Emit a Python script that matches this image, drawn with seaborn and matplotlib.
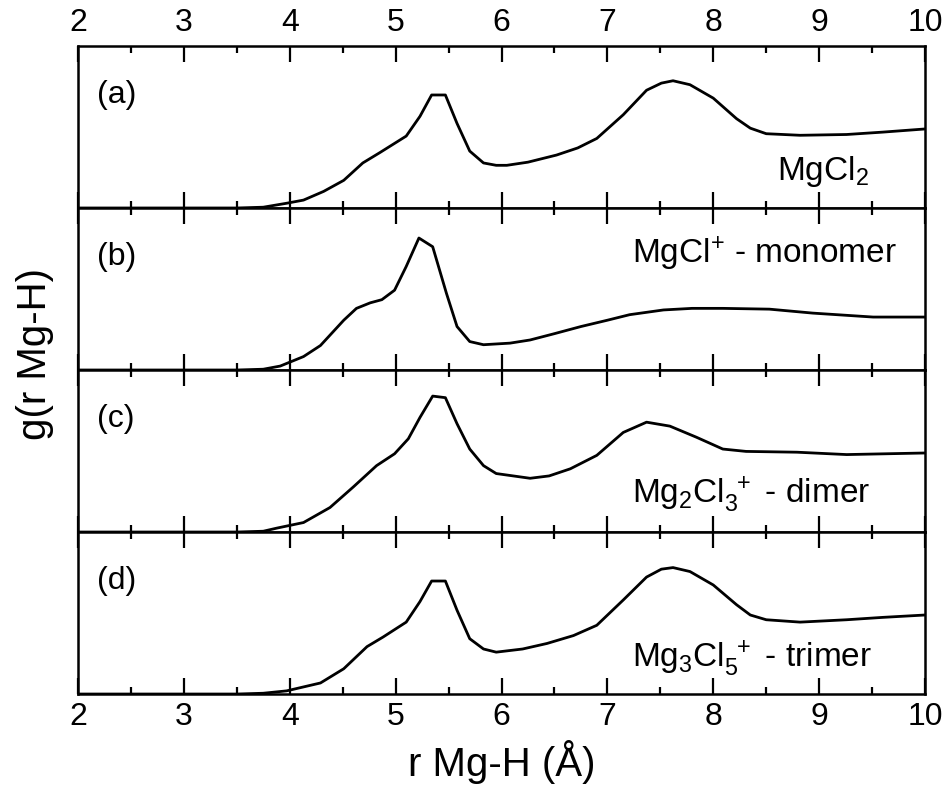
import matplotlib
matplotlib.use("Agg")
import matplotlib.pyplot as plt
import seaborn as sns
import pandas as pd
import numpy as np
from matplotlib.ticker import MultipleLocator

# g(r) Mg-H curves, one per panel
r_a = [2.0, 3.0, 3.5, 3.75, 3.97, 4.13, 4.32, 4.51, 4.69, 4.85, 5.10, 5.23, 5.34, 5.47,
       5.58, 5.70, 5.83, 5.95, 6.05, 6.25, 6.52, 6.72, 6.90, 7.15, 7.37, 7.51, 7.62,
       7.78, 8.00, 8.22, 8.35, 8.50, 8.82, 9.26, 9.60, 10.0]
g_a = [0.0, 0.0, 0.0, 0.01, 0.06, 0.10, 0.21, 0.35, 0.57, 0.70, 0.91, 1.16, 1.43, 1.43,
       1.07, 0.72, 0.57, 0.54, 0.54, 0.58, 0.67, 0.76, 0.88, 1.18, 1.49, 1.58, 1.61,
       1.56, 1.39, 1.13, 1.01, 0.94, 0.92, 0.93, 0.96, 1.00]

r_b = [2.0, 3.0, 3.5, 3.75, 3.91, 4.13, 4.29, 4.51, 4.63, 4.76, 4.87, 4.99, 5.10, 5.22,
       5.35, 5.48, 5.58, 5.70, 5.83, 6.08, 6.27, 6.50, 6.75, 7.00, 7.21, 7.53, 7.80,
       8.09, 8.53, 8.94, 9.51, 10.0]
g_b = [0.0, 0.0, 0.0, 0.01, 0.05, 0.17, 0.31, 0.63, 0.78, 0.85, 0.89, 1.01, 1.31, 1.67,
       1.56, 0.97, 0.55, 0.36, 0.32, 0.34, 0.38, 0.46, 0.55, 0.63, 0.70, 0.76, 0.78,
       0.78, 0.77, 0.72, 0.67, 0.67]

r_c = [2.0, 3.0, 3.5, 3.75, 3.88, 4.13, 4.38, 4.60, 4.82, 4.99, 5.12, 5.23, 5.35, 5.47,
       5.58, 5.70, 5.83, 5.95, 6.11, 6.27, 6.45, 6.65, 6.90, 7.15, 7.37, 7.59, 7.84,
       8.09, 8.31, 8.79, 9.26, 10.0]
g_c = [0.0, 0.0, 0.0, 0.01, 0.05, 0.12, 0.31, 0.57, 0.84, 0.99, 1.18, 1.45, 1.72, 1.70,
       1.37, 1.05, 0.84, 0.74, 0.71, 0.68, 0.71, 0.80, 0.97, 1.26, 1.39, 1.34, 1.20,
       1.05, 1.02, 1.01, 0.98, 1.00]

r_d = [2.0, 3.0, 3.5, 3.75, 3.97, 4.29, 4.51, 4.73, 4.88, 5.10, 5.23, 5.34, 5.47, 5.58,
       5.70, 5.83, 5.95, 6.20, 6.43, 6.68, 6.90, 7.15, 7.37, 7.51, 7.62, 7.78, 8.00,
       8.22, 8.35, 8.50, 8.82, 9.26, 9.60, 10.0]
g_d = [0.0, 0.0, 0.0, 0.01, 0.04, 0.14, 0.32, 0.60, 0.72, 0.91, 1.17, 1.43, 1.43, 1.06,
       0.70, 0.57, 0.53, 0.57, 0.64, 0.74, 0.87, 1.19, 1.48, 1.58, 1.60, 1.55, 1.38,
       1.13, 1.00, 0.94, 0.91, 0.94, 0.97, 1.00]

panel_tags = ["(a)", "(b)", "(c)", "(d)"]
species = [r"$MgCl_2$", r"$MgCl^{+}$ - monomer", r"$Mg_2Cl_3^{\ +}$ - dimer",
           r"$Mg_3Cl_5^{\ +}$ - trimer"]

sns.set_theme(style="ticks")
plt.rcParams["font.family"] = ["Liberation Sans", "DejaVu Sans"]
plt.rcParams["mathtext.default"] = "regular"
plt.rcParams["text.color"] = "black"
plt.rcParams["xtick.color"] = "black"
plt.rcParams["xtick.labelcolor"] = "black"

curves = [(r_a, g_a), (r_b, g_b), (r_c, g_c), (r_d, g_d)]
# where each species label sits (axes fraction)
species_pos = [(0.825, 0.228), (0.654, 0.72), (0.654, 0.23), (0.654, 0.22)]

fig, axes = plt.subplots(4, 1, figsize=(9.5, 7.86), dpi=100, sharex=True,
                         gridspec_kw={"hspace": 0})
fig.subplots_adjust(left=0.0821, right=0.9737, top=0.9415, bottom=0.117)

for i, ax in enumerate(axes):
    r, g = curves[i]
    df = pd.DataFrame({"r": r, "g": g})
    sns.lineplot(data=df, x="r", y="g", ax=ax, color="black", linewidth=2.0)
    ax.set_xlim(2, 10)
    ax.set_ylim(0, 2.05)
    ax.set_xlabel("")
    ax.set_ylabel("")
    ax.set_yticks([])
    ax.xaxis.set_major_locator(MultipleLocator(1))
    ax.xaxis.set_minor_locator(MultipleLocator(0.5))
    ax.tick_params(axis="x", which="both", direction="in", top=True, bottom=True,
                   width=1.6, color="black", labelsize=23, pad=6,
                   labelbottom=(i == 3), labeltop=(i == 0))
    ax.tick_params(axis="x", which="major", length=11.5)
    ax.tick_params(axis="x", which="minor", length=5)
    for sp in ax.spines.values():
        sp.set_linewidth(1.8)
        sp.set_color("black")
    ax.text(0.022, 0.70, panel_tags[i], transform=ax.transAxes, fontsize=23,
            ha="left", va="center")
    sx, sy = species_pos[i]
    ax.text(sx, sy, species[i], transform=ax.transAxes, fontsize=24,
            ha="left", va="center")

fig.text(0.037, 0.55, "g(r Mg-H)", rotation=90, fontsize=29, ha="center", va="center")
fig.text(0.528, 0.03, "r Mg-H (\u00c5)", fontsize=29, ha="center", va="center")

fig.savefig("out.png", dpi=100)
